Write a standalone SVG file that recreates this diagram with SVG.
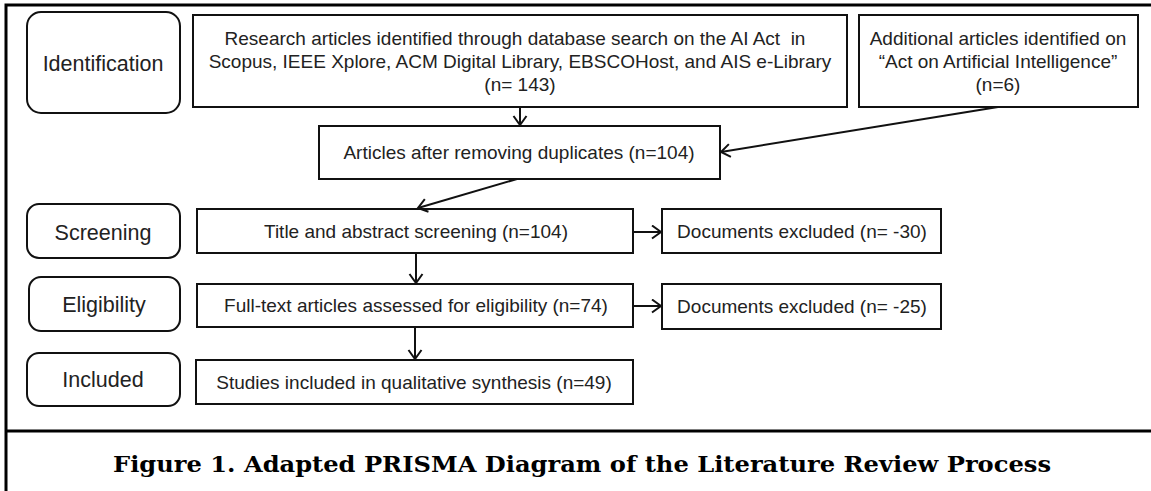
<svg xmlns="http://www.w3.org/2000/svg" width="1151" height="491" viewBox="0 0 1151 491">
  <defs>
    <style>
      .stage { fill: #fff; stroke: #111; stroke-width: 2; }
      .box { fill: #fff; stroke: #111; stroke-width: 2; }
      .lbl { font-family: "Liberation Sans", Arial, sans-serif; font-size: 21.5px; fill: #222; text-anchor: middle; }
      .txt { font-family: "Liberation Sans", Arial, sans-serif; font-size: 19px; fill: #222; text-anchor: middle; white-space: pre; }
      .edge { fill: none; stroke: #111; stroke-width: 2; }
      .frame { fill: none; stroke: #000; stroke-width: 3; }
      .caption { font-family: "DejaVu Serif", "Liberation Serif", serif; font-weight: bold; font-size: 22.5px; fill: #000; text-anchor: middle; }
    </style>
    <marker id="arrow" markerUnits="userSpaceOnUse" markerWidth="14" markerHeight="16" refX="10" refY="7.5" orient="auto">
      <path d="M1,1 L10,7.5 L1,14" fill="none" stroke="#111" stroke-width="2"/>
    </marker>
  </defs>

  <rect width="1151" height="491" fill="#fff"/>

  <!-- figure frame and caption divider -->
  <path class="frame" d="M6,491 V5 H1151"/>
  <line class="frame" x1="6" y1="431" x2="1151" y2="431"/>

  <!-- stage labels -->
  <g id="stage-identification">
    <rect class="stage" x="27" y="12" width="153" height="101" rx="14"/>
    <text class="lbl" x="103" y="71">Identification</text>
  </g>
  <g id="stage-screening">
    <rect class="stage" x="27" y="204" width="153" height="54" rx="12"/>
    <text class="lbl" x="103" y="240">Screening</text>
  </g>
  <g id="stage-eligibility">
    <rect class="stage" x="29" y="277" width="151" height="54" rx="12"/>
    <text class="lbl" x="104" y="312">Eligibility</text>
  </g>
  <g id="stage-included">
    <rect class="stage" x="27" y="353" width="153" height="53" rx="12"/>
    <text class="lbl" x="103" y="387">Included</text>
  </g>

  <!-- process boxes -->
  <g id="database-search">
    <rect class="box" x="193" y="15" width="654" height="92"/>
    <text class="txt" x="515" y="45" xml:space="preserve">Research articles identified through database search on the AI Act  in</text>
    <text class="txt" x="520" y="68">Scopus, IEEE Xplore, ACM Digital Library, EBSCOHost, and AIS e-Library</text>
    <text class="txt" x="520" y="91">(n= 143)</text>
  </g>
  <g id="additional-articles">
    <rect class="box" x="859" y="15" width="279" height="92"/>
    <text class="txt" x="998" y="45">Additional articles identified on</text>
    <text class="txt" x="998" y="68">“Act on Artificial Intelligence”</text>
    <text class="txt" x="998" y="91">(n=6)</text>
  </g>
  <g id="deduplicated">
    <rect class="box" x="319" y="126" width="401" height="53"/>
    <text class="txt" x="519" y="159">Articles after removing duplicates (n=104)</text>
  </g>
  <g id="title-abstract">
    <rect class="box" x="197" y="209" width="436" height="44"/>
    <text class="txt" x="416" y="238">Title and abstract screening (n=104)</text>
  </g>
  <g id="excluded-screening">
    <rect class="box" x="662" y="209" width="279" height="44"/>
    <text class="txt" x="802" y="238">Documents excluded (n= -30)</text>
  </g>
  <g id="full-text">
    <rect class="box" x="197" y="284" width="436" height="43"/>
    <text class="txt" x="416" y="312">Full-text articles assessed for eligibility (n=74)</text>
  </g>
  <g id="excluded-eligibility">
    <rect class="box" x="662" y="284" width="279" height="45"/>
    <text class="txt" x="802" y="313">Documents excluded (n= -25)</text>
  </g>
  <g id="included-studies">
    <rect class="box" x="196" y="360" width="437" height="44"/>
    <text class="txt" x="414" y="389">Studies included in qualitative synthesis (n=49)</text>
  </g>

  <!-- connectors -->
  <g id="connectors">
    <line class="edge" x1="520" y1="107" x2="520" y2="125" marker-end="url(#arrow)"/>
    <line class="edge" x1="998" y1="107" x2="721" y2="152" marker-end="url(#arrow)"/>
    <line class="edge" x1="517" y1="179" x2="418" y2="208" marker-end="url(#arrow)"/>
    <line class="edge" x1="633" y1="232" x2="661" y2="232" marker-end="url(#arrow)"/>
    <line class="edge" x1="416" y1="253" x2="416" y2="283" marker-end="url(#arrow)"/>
    <line class="edge" x1="633" y1="306" x2="661" y2="306" marker-end="url(#arrow)"/>
    <line class="edge" x1="415" y1="327" x2="415" y2="359" marker-end="url(#arrow)"/>
  </g>

  <text class="caption" x="582" y="472" textLength="938" lengthAdjust="spacingAndGlyphs">Figure 1. Adapted PRISMA Diagram of the Literature Review Process</text>
</svg>
